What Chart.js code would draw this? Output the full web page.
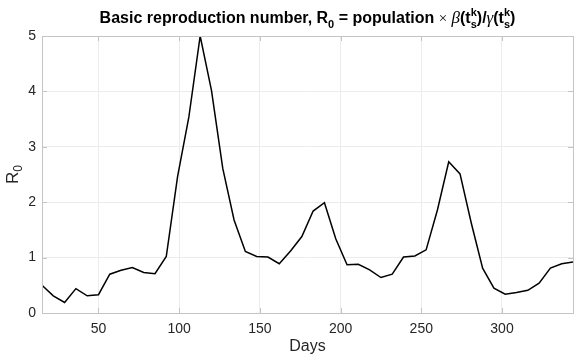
<!DOCTYPE html>
<html>
<head>
<meta charset="utf-8">
<script src="https://cdn.jsdelivr.net/npm/chart.js@4.4.1/dist/chart.umd.min.js"></script>
<style>
  html, body { margin: 0; padding: 0; background: #fff; }
  #wrap { position: relative; width: 581px; height: 357px; }
</style>
</head>
<body>
<div id="wrap"><canvas id="r0Chart"></canvas></div>
<script>
const days = [15, 22, 29, 36, 43, 50, 57, 64, 71, 78, 85, 92, 99, 106, 113, 120,
  127, 134, 141, 148, 155, 162, 169, 176, 183, 190, 197, 204, 211, 218, 225, 232,
  239, 246, 253, 260, 267, 274, 281, 288, 295, 302, 309, 316, 323, 330, 337, 344];
const r0Values = [0.50, 0.31, 0.19, 0.44, 0.31, 0.33, 0.70, 0.77, 0.82, 0.73, 0.71, 1.02,
  2.46, 3.54, 5.00, 4.02, 2.61, 1.68, 1.11, 1.02, 1.01, 0.89, 1.12, 1.38,
  1.84, 1.99, 1.34, 0.87, 0.88, 0.78, 0.64, 0.70, 1.01, 1.03, 1.14, 1.86,
  2.73, 2.51, 1.62, 0.81, 0.45, 0.34, 0.37, 0.41, 0.54, 0.81, 0.89, 0.92];
const xTicks = [50, 100, 150, 200, 250, 300];
const yTicks = [0, 1, 2, 3, 4, 5];

const sans = "'Liberation Sans', Arial, Helvetica, sans-serif";
const serif = "'Liberation Serif', 'DejaVu Serif', serif";
const boxColor = "#c4c4c4";

// draws a run of text pieces, some raised or lowered
function drawRich(ctx, parts, cx, baseline) {
  let total = 0;
  parts.forEach(p => {
    ctx.font = p.font;
    p.w = p.stack ? Math.max(ctx.measureText(p.stack[0]).width, ctx.measureText(p.stack[1]).width)
                  : ctx.measureText(p.text).width;
    total += p.w;
  });
  let x = cx - total / 2;
  ctx.textAlign = "left";
  ctx.textBaseline = "alphabetic";
  parts.forEach(p => {
    ctx.font = p.font;
    if (p.stack) {
      ctx.fillText(p.stack[0], x, baseline - 7);
      ctx.fillText(p.stack[1], x, baseline + 5);
    } else {
      ctx.fillText(p.text, x, baseline + (p.dy || 0));
    }
    x += p.w;
  });
}

const decorPlugin = {
  id: "decor",
  afterDraw(chart) {
    const ctx = chart.ctx;
    const a = chart.chartArea;
    const xs = chart.scales.x, ys = chart.scales.y;
    ctx.save();

    // inward tick marks and box
    ctx.strokeStyle = boxColor;
    ctx.lineWidth = 1;
    ctx.beginPath();
    xTicks.forEach(v => {
      const px = Math.round(xs.getPixelForValue(v)) + 0.5;
      ctx.moveTo(px, a.bottom); ctx.lineTo(px, a.bottom - 5);
      ctx.moveTo(px, a.top); ctx.lineTo(px, a.top + 5);
    });
    yTicks.forEach(v => {
      const py = Math.round(ys.getPixelForValue(v)) + 0.5;
      ctx.moveTo(a.left, py); ctx.lineTo(a.left + 5, py);
      ctx.moveTo(a.right, py); ctx.lineTo(a.right - 5, py);
    });
    ctx.stroke();
    ctx.strokeRect(Math.round(a.left) + 0.5, Math.round(a.top) + 0.5,
      Math.round(a.right - a.left), Math.round(a.bottom - a.top));

    // title
    ctx.fillStyle = "#000";
    const b = "bold 16px " + sans, bs = "bold 11px " + sans;
    drawRich(ctx, [
      { text: "Basic reproduction number, R", font: b },
      { text: "0", font: bs, dy: 5 },
      { text: " = population ", font: b },
      { text: "\u00d7", font: "15px " + serif },
      { text: " ", font: b },
      { text: "\u03b2", font: "italic 17px " + serif },
      { text: "(t", font: b },
      { stack: ["k", "s"], font: bs },
      { text: ")/", font: b },
      { text: "\u03b3", font: "italic 17px " + serif },
      { text: "(t", font: b },
      { stack: ["k", "s"], font: bs },
      { text: ")", font: b }
    ], (a.left + a.right) / 2, 23);

    // y axis title, rotated
    ctx.fillStyle = "#262626";
    ctx.translate(18, (a.top + a.bottom) / 2);
    ctx.rotate(-Math.PI / 2);
    drawRich(ctx, [
      { text: "R", font: "17px " + sans },
      { text: "0", font: "12px " + sans, dy: 4 }
    ], 0, 0);
    ctx.restore();
  }
};

new Chart(document.getElementById("r0Chart"), {
  type: "line",
  data: {
    datasets: [{
      data: days.map((d, i) => ({ x: d, y: r0Values[i] })),
      borderColor: "#000",
      borderWidth: 1.5,
      pointRadius: 0,
      tension: 0,
      fill: false
    }]
  },
  options: {
    responsive: true,
    maintainAspectRatio: false,
    animation: false,
    layout: { padding: { top: 36, right: 8, left: 0, bottom: 0 } },
    plugins: { legend: { display: false }, tooltip: { enabled: false } },
    scales: {
      x: {
        type: "linear",
        min: 15,
        max: 344,
        afterBuildTicks: axis => { axis.ticks = xTicks.map(v => ({ value: v })); },
        afterFit: axis => { axis.height = 44; },
        grid: { color: "#ececec", drawTicks: false },
        border: { display: false },
        ticks: { color: "#262626", font: { family: sans, size: 14 }, padding: 8 },
        title: { display: true, text: "Days", color: "#262626", font: { family: sans, size: 16 }, padding: { top: 4, bottom: 1 } }
      },
      y: {
        min: 0,
        max: 5,
        afterBuildTicks: axis => { axis.ticks = yTicks.map(v => ({ value: v })); },
        afterFit: axis => { axis.width = 42; },
        grid: { color: "#ececec", drawTicks: false },
        border: { display: false },
        ticks: { color: "#262626", font: { family: sans, size: 14 }, padding: 6 }
      }
    }
  },
  plugins: [decorPlugin]
});
</script>
</body>
</html>
